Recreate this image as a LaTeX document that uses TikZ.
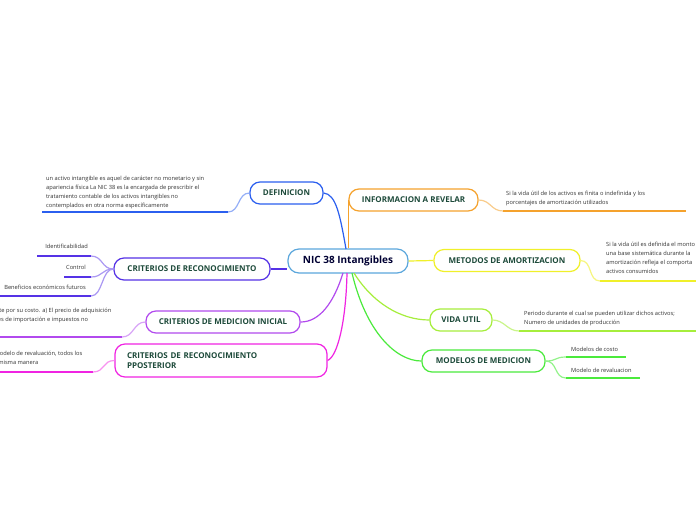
\documentclass[tikz,border=0pt]{standalone}
\usepackage{fontspec}
\setmainfont{Open Sans}
\usetikzlibrary{positioning}
\definecolor{lbl}{HTML}{1D4A3A}
\definecolor{txt}{HTML}{333333}
\definecolor{cnic}{HTML}{5BA7DC}
\definecolor{cdef}{HTML}{2B5FEF}
\definecolor{cinf}{HTML}{F5A22D}
\definecolor{cmet}{HTML}{F0F02A}
\definecolor{cvid}{HTML}{A6EE3C}
\definecolor{cmod}{HTML}{4BEA3C}
\definecolor{crec}{HTML}{5532E6}
\definecolor{cmi}{HTML}{B24AEE}
\definecolor{crp}{HTML}{F024E2}
\begin{document}
\begin{tikzpicture}[x=1pt,y=-1pt,
  t/.style={draw,rounded corners=10pt,line width=1.2pt,fill=white,align=center,
    font=\fontsize{8}{10}\selectfont\bfseries,text=lbl,minimum height=22pt,inner sep=0pt},
  n/.style={align=left,inner sep=0pt,font=\fontsize{5.7}{9.1}\selectfont,text=txt},
  l/.style={line width=1.2pt},
  u/.style={line width=1.4pt}]
  \path[use as bounding box,fill=white] (0,0) rectangle (696,520);
  \clip (0,0) rectangle (696,520);
  % main topic and branches
  \node[t,draw=cnic,minimum width=120pt,minimum height=24pt,rounded corners=11pt,
    font=\fontsize{10}{12}\selectfont\bfseries,text=black!80!blue] (nic) at (348,261) {NIC 38 Intangibles};
  \node[t,draw=cdef,minimum width=73pt] (def) at (286.5,193) {DEFINICION};
  \node[t,draw=cinf,minimum width=129pt] (inf) at (413.5,200) {INFORMACION A REVELAR};
  \node[t,draw=cmet,minimum width=146pt] (met) at (507,260.5) {METODOS DE AMORTIZACION};
  \node[t,draw=cvid,minimum width=62pt] (vid) at (461,320) {VIDA UTIL};
  \node[t,draw=cmod,minimum width=123pt] (mod) at (483.5,361) {MODELOS DE MEDICION};
  \node[t,draw=crec,minimum width=156pt] (rec) at (192,269) {CRITERIOS DE RECONOCIMIENTO};
  \node[t,draw=cmi,minimum width=154pt] (mi) at (223,322) {CRITERIOS DE MEDICION INICIAL};
  \node[t,draw=crp,minimum width=212pt,minimum height=33pt,align=left,text width=188pt] (rp) at (221,360.5)
    {CRITERIOS DE RECONOCIMIENTO\\PPOSTERIOR};
  \draw[l,cdef] (346,249) .. controls (340,215) and (336,194) .. (def.east);
  \draw[l,cinf] (inf.west |- nic.north) -- (inf.west);
  \draw[l,cmet] (nic.east) -- (met.west);
  \draw[l,crec] (rec.east) -- (rec.east -| nic.west);
  \draw[l,cvid] (354,273) .. controls (372,302) and (400,320) .. (vid.west);
  \draw[l,cmod] (352,273) .. controls (366,332) and (396,361) .. (mod.west);
  \draw[l,cmi] (343,273) .. controls (334,302) and (320,322) .. (mi.east);
  \draw[l,crp] (347,273) .. controls (346,320) and (338,356) .. (rp.east);
  % notes
  \node[n,anchor=north west] (defn) at (46,176) {un activo intangible es aquel de carácter no monetario y sin\\apariencia física La NIC 38 es la encargada de prescribir el\\tratamiento contable de los activos intangibles no\\contemplados en otra norma específicamente};
  \coordinate (d1) at (228,212); \coordinate (d2) at (42,212);
  \draw[l,cdef!50] (def.west) .. controls +(-12,0) and +(12,0) .. (d1);
  \draw[u,cdef] (d1) -- (d2);
  \node[n,anchor=north west] (infn) at (506,191) {Si la vida útil de los activos es finita o indefinida y los\\porcentajes de amortización utilizados};
  \coordinate (i1) at (503,211); \coordinate (i2) at (686,211);
  \draw[l,cinf!55] (inf.east) .. controls +(12,0) and +(-12,0) .. (i1);
  \draw[u,cinf] (i1) -- (i2);
  \node[n,anchor=north west] (metn) at (606,242) {Si la vida útil es definida el monto\\una base sistemática durante la\\amortización refleja el comporta\\activos consumidos};
  \coordinate (m1) at (600,281); \coordinate (m2) at (696,281);
  \draw[l,cmet!60] (met.east) .. controls +(12,0) and +(-12,0) .. (m1);
  \draw[u,cmet] (m1) -- (m2);
  \node[n,anchor=north west] (vidn) at (524,311) {Periodo durante el cual se pueden utilizar dichos activos;\\Numero de unidades de producción};
  \coordinate (v1) at (519,331); \coordinate (v2) at (696,331);
  \draw[l,cvid!60] (vid.east) .. controls +(12,0) and +(-12,0) .. (v1);
  \draw[u,cvid] (v1) -- (v2);
  \node[n,anchor=north west] (modn1) at (571,347) {Modelos de costo};
  \node[n,anchor=north west] (modn2) at (571,368) {Modelo de revaluacion};
  \coordinate (o1) at (566,357); \coordinate (o2) at (626,357);
  \coordinate (o3) at (566,378); \coordinate (o4) at (640,378);
  \draw[l,cmod!60] (mod.east) .. controls +(12,0) and +(-12,0) .. (o1);
  \draw[l,cmod!60] (mod.east) .. controls +(12,0) and +(-12,0) .. (o3);
  \draw[u,cmod] (o1) -- (o2); \draw[u,cmod] (o3) -- (o4);
  \node[n,anchor=north east] (recn1) at (88,244) {Identificabilidad};
  \node[n,anchor=north east] (recn2) at (86,265) {Control};
  \node[n,anchor=north east] (recn3) at (86,285) {Beneficios económicos futuros};
  \coordinate (r1) at (91,256); \coordinate (r2) at (37,256);
  \coordinate (r3) at (91,277); \coordinate (r4) at (64,277);
  \coordinate (r5) at (91,296); \coordinate (r6) at (0,296);
  \foreach \a/\b in {r1/r2,r3/r4,r5/r6}{
    \draw[l,crec!50] (rec.west) .. controls +(-12,0) and +(12,0) .. (\a);
    \draw[u,crec] (\a) -- (\b);}
  \node[n,anchor=north west] (min) at (-56,308) {Se medirá inicialmente por su costo. a) El precio de adquisición\\incluidos los aranceles de importación e impuestos no};
  \coordinate (c1) at (122,337); \coordinate (c2) at (0,337);
  \draw[l,cmi!50] (mi.west) .. controls +(-12,0) and +(12,0) .. (c1);
  \draw[u,cmi] (c1) -- (c2);
  \node[n,anchor=north west] (rpn) at (-42,351) {Si se aplica el modelo de revaluación, todos los\\se miden de la misma manera};
  \coordinate (p1) at (93,372); \coordinate (p2) at (0,372);
  \draw[l,crp!50] (rp.west) .. controls +(-12,0) and +(12,0) .. (p1);
  \draw[u,crp] (p1) -- (p2);
\end{tikzpicture}
\end{document}
